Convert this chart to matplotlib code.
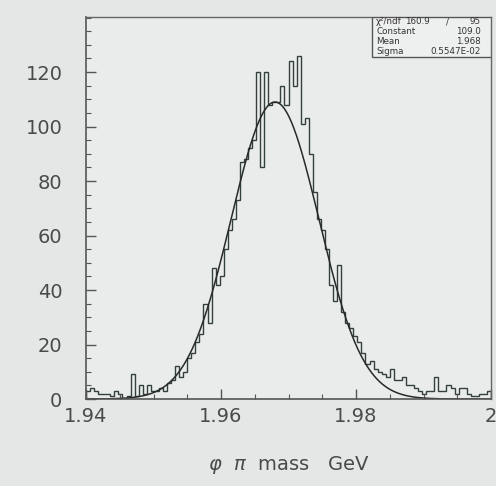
import numpy as np
import matplotlib
matplotlib.use("Agg")
import matplotlib.pyplot as plt
from matplotlib.ticker import MultipleLocator

# ---- data ----
x_min, x_max, n_bins = 1.94, 2.0, 100
counts = [
    3, 4, 3, 2, 2, 2, 1, 3, 2, 0,
    1, 9, 1, 5, 2, 5, 3, 3, 4, 3,
    6, 7, 12, 8, 10, 15, 17, 21, 24, 35,
    28, 48, 42, 45, 55, 62, 66, 73, 87, 88,
    92, 95, 120, 85, 120, 108, 109, 109, 115, 108,
    124, 115, 126, 101, 103, 90, 76, 66, 62, 55,
    42, 36, 49, 32, 28, 26, 23, 21, 17, 13,
    14, 11, 10, 9, 8, 11, 7, 7, 8, 5,
    5, 4, 3, 2, 3, 3, 8, 3, 3, 5,
    4, 2, 4, 4, 2, 1, 1, 2, 2, 3,
]
# fitted curve as it is drawn in the picture (height, centre, width)
curve_height = 109.0
curve_mean = 1.968
curve_sigma = 0.0065
stat_labels = ["χ²/ndf", "Constant", "Mean", "Sigma"]
stat_values = ["109.0", "1.968", "0.5547E-02"]
chi2_text, ndf_text = "160.9", "95"
x_ticks = [1.94, 1.96, 1.98, 2.0]
x_ticklabels = ["1.94", "1.96", "1.98", "2"]
y_ticks = [0, 20, 40, 60, 80, 100, 120]

# ---- figure ----
fig = plt.figure(figsize=(4.96, 4.86), dpi=100, facecolor="#e4e7e6")
ax = fig.add_axes([86/496, 1-399/486, 405/496, 382/486])
ax.set_facecolor("#eaecec")

edges = np.linspace(x_min, x_max, n_bins + 1)
ax.stairs(counts, edges, color="#34403a", lw=1.0, baseline=0)

xs = np.linspace(x_min, x_max, 600)
ys = curve_height * np.exp(-0.5 * ((xs - curve_mean) / curve_sigma) ** 2)
ax.plot(xs, ys, color="#262a28", lw=1.1)

ax.set_xlim(x_min, x_max)
ax.set_ylim(0, 140.2)

ax.set_xticks(x_ticks)
ax.set_xticklabels(x_ticklabels)
ax.xaxis.set_minor_locator(MultipleLocator(0.005))
ax.set_yticks(y_ticks)
ax.yaxis.set_minor_locator(MultipleLocator(5))
ax.tick_params(which="both", direction="in", colors="#555", labelcolor="#4a4a4a",
               labelsize=14)
ax.tick_params(which="major", length=7, width=1)
ax.tick_params(which="minor", length=3.5, width=0.8)
ax.tick_params(axis="x", pad=6)
ax.tick_params(axis="y", pad=17)
for s in ["top", "right"]:
    ax.spines[s].set_color("#666")
    ax.spines[s].set_linewidth(1.0)
for s in ["left", "bottom"]:
    ax.spines[s].set_color("#555")
    ax.spines[s].set_linewidth(1.2)

ax.set_xlabel(r"$\varphi$  $\pi$  mass   GeV", fontsize=14, color="#4a4a4a",
              labelpad=20)

# ---- stats box ----
bx0, by0 = (372 - 86) / 405, (399 - 57) / 382
box = plt.Rectangle((bx0, by0), 1 - bx0, 1 - by0, transform=ax.transAxes,
                    facecolor="#eef0ef", edgecolor="#555", lw=1.0, zorder=5)
ax.add_patch(box)
line_h = (1 - by0) / 4
fs = 6.3
for k, lab in enumerate(stat_labels):
    yk = 1 - line_h * (k + 0.5)
    ax.text(bx0 + 0.01, yk, lab, transform=ax.transAxes, fontsize=fs,
            va="center", ha="left", color="#333", zorder=6)
ax.text(0.85, 1 - line_h * 0.5, chi2_text, transform=ax.transAxes, fontsize=fs,
        va="center", ha="right", color="#333", zorder=6)
ax.text(0.893, 1 - line_h * 0.5, "/", transform=ax.transAxes, fontsize=fs,
        va="center", ha="center", color="#333", zorder=6)
ax.text(0.975, 1 - line_h * 0.5, ndf_text, transform=ax.transAxes, fontsize=fs,
        va="center", ha="right", color="#333", zorder=6)
for k, val in enumerate(stat_values):
    yk = 1 - line_h * (k + 1.5)
    ax.text(0.975, yk, val, transform=ax.transAxes, fontsize=fs,
            va="center", ha="right", color="#333", zorder=6)

fig.savefig("out.png", dpi=100, facecolor=fig.get_facecolor())
